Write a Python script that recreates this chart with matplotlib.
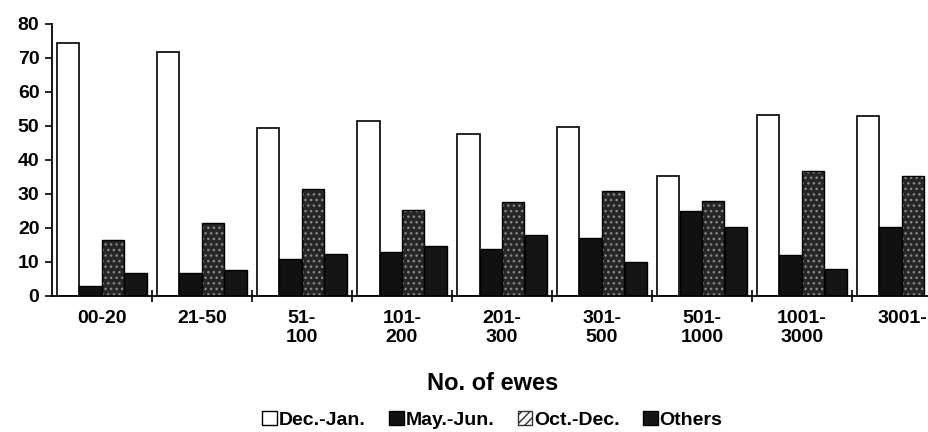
import numpy as np
import matplotlib.pyplot as plt
from matplotlib.patches import Patch

plt.rcParams['font.family'] = ['Liberation Sans', 'DejaVu Sans']
plt.rcParams['font.weight'] = 'bold'

groups = ['00-20', '21-50', '51-\n100', '101-\n200', '201-\n300',
          '301-\n500', '501-\n1000', '1001-\n3000', '3001-']
dec_jan = [74.3, 71.7, 49.3, 51.6, 47.5, 49.6, 35.4, 53.1, 52.8]
may_jun = [3.0, 6.8, 11.0, 13.0, 13.9, 17.1, 25.0, 12.1, 20.3]
oct_dec = [16.5, 21.5, 31.6, 25.4, 27.7, 30.9, 28.0, 36.9, 35.4]
others = [6.8, 7.7, 12.4, 14.8, 18.0, 10.0, 20.3, 8.0, np.nan]

x = np.arange(len(groups))
w = 0.225

fig = plt.figure(figsize=(9.29, 4.32), dpi=100)
ax = fig.add_axes([52 / 929, 136 / 432, 877 / 929, 272 / 432])

ax.bar(x - 1.5 * w, dec_jan, w, color='white', edgecolor='black', linewidth=1.2)
ax.bar(x - 0.5 * w, may_jun, w, color='#111111', edgecolor='black', linewidth=1.0)
# speckled bars: light dots over dark grey, outline drawn on top
ax.bar(x + 0.5 * w, oct_dec, w, color='#262626', edgecolor='#8a8a8a',
       hatch='...', linewidth=0)
ax.bar(x + 0.5 * w, oct_dec, w, color='none', edgecolor='black', linewidth=1.0)
ax.bar(x + 1.5 * w, others, w, color='#151515', edgecolor='black', linewidth=1.0)

ax.set_ylim(0, 80)
ax.set_yticks(range(0, 81, 10))
ax.set_xlim(-0.5, 8.27)
ax.set_xticks(x)
ax.set_xticklabels(groups, fontsize=14, fontweight='bold', linespacing=1.2)
ax.set_xticks(x[:-1] + 0.5, minor=True)
ax.tick_params(axis='x', which='major', length=0, pad=10)
ax.tick_params(axis='x', which='minor', direction='inout', length=8, width=1.2)
ax.tick_params(axis='y', direction='out', length=5, width=1.2, labelsize=14, pad=4)
for lab in ax.get_yticklabels():
    lab.set_fontweight('bold')

for s in ['top', 'right']:
    ax.spines[s].set_visible(False)
ax.spines['left'].set_linewidth(1.3)
ax.spines['bottom'].set_linewidth(1.3)

fig.text(0.53, 1 - 384 / 432, 'No. of ewes', ha='center', va='center',
         fontsize=17, fontweight='bold')

handles = [
    Patch(facecolor='white', edgecolor='black', label='Dec.-Jan.'),
    Patch(facecolor='#111111', edgecolor='black', label='May.-Jun.'),
    Patch(facecolor='white', edgecolor='#333333', hatch='////', label='Oct.-Dec.'),
    Patch(facecolor='#151515', edgecolor='black', label='Others'),
]
fig.legend(handles=handles, loc='center', bbox_to_anchor=(0.53, 1 - 420 / 432),
           ncol=4, frameon=False, fontsize=14, handlelength=0.75, handleheight=0.75,
           handletextpad=0.1, columnspacing=1.2, borderpad=0)

fig.savefig('out.png', dpi=100)
